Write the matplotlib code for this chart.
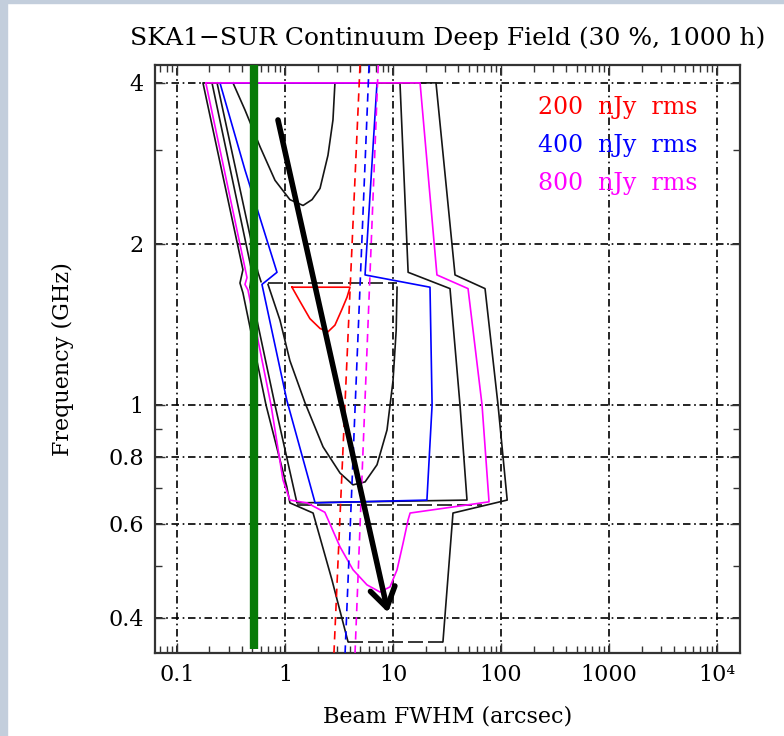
"""SKA1-SUR continuum deep field: beam FWHM vs frequency sensitivity contours."""

import matplotlib

matplotlib.use("Agg")
import matplotlib.pyplot as plt  # noqa: E402
from matplotlib.patches import Rectangle  # noqa: E402
from matplotlib.ticker import FixedFormatter, FixedLocator, NullFormatter  # noqa: E402

plt.rcParams["font.family"] = ["DejaVu Serif"]

# -- Data (beam FWHM in arcsec, frequency in GHz) ---------------------------
mag_fwhm = [0.185, 17.8, 25.5, 49.5, 66.7, 77.4, 14.4, 13.8, 12.4, 10.9, 9.38, 7.57,
            5.74, 4.26, 3.23, 2.34, 1.60, 1.11, 0.958, 0.742, 0.454, 0.426, 0.445, 0.185]
mag_freq = [4.0, 4.0, 1.75, 1.65, 1.0, 0.659, 0.628, 0.610, 0.552, 0.492, 0.457, 0.447,
            0.461, 0.492, 0.543, 0.630, 0.656, 0.664, 0.724, 1.0, 1.64, 1.68, 1.73, 4.0]

blue_fwhm = [0.250, 7.11, 5.51, 22.0, 23.0, 20.6, 1.90, 1.04, 0.612, 0.843, 0.426, 0.250]
blue_freq = [4.0, 4.0, 1.75, 1.66, 1.0, 0.664, 0.656, 1.02, 1.68, 1.77, 2.75, 4.0]

red_fwhm = [1.16, 1.38, 1.70, 2.11, 2.50, 2.90, 3.37, 3.75, 4.00, 1.16]
red_freq = [1.66, 1.56, 1.45, 1.39, 1.37, 1.41, 1.51, 1.59, 1.66, 1.66]

outer_fwhm = [29.0, 35.9, 114, 93.8, 71.1, 37.5, 25.0, 0.174, 0.408, 0.383, 0.408,
              0.667, 1.04, 1.11, 1.82, 2.72, 3.83]
outer_freq = [0.361, 0.628, 0.664, 1.0, 1.65, 1.75, 4.0, 4.0, 1.79, 1.69, 1.62,
              1.0, 0.703, 0.656, 0.628, 0.471, 0.361]
outer_base_fwhm = [3.83, 29.0]
outer_base_freq = [0.361, 0.361]

mid_fwhm = [0.211, 11.6, 13.8, 33.7, 41.7, 48.4, 1.29, 0.808, 0.474, 0.495, 0.211]
mid_freq = [4.0, 4.0, 1.77, 1.65, 1.0, 0.664, 0.656, 1.0, 1.66, 1.77, 4.0]

inner_fwhm = [0.235, 0.562, 0.60]
inner_freq = [4.0, 1.77, 1.70]

cup_hi_fwhm = [0.330, 0.426, 0.587, 0.808, 1.11, 1.47, 1.78, 2.11, 2.50, 2.78, 2.90]
cup_hi_freq = [4.0, 3.56, 3.04, 2.63, 2.42, 2.36, 2.42, 2.54, 2.93, 3.41, 4.0]

cup_mid_fwhm = [0.696, 0.899, 1.11, 1.53, 2.25, 3.23, 4.26, 5.51, 7.11, 8.80, 10.0, 10.7, 10.9]
cup_mid_freq = [1.68, 1.44, 1.21, 1.01, 0.835, 0.746, 0.709, 0.718, 0.773, 0.898, 1.11, 1.38, 1.66]
cup_mid_top_fwhm = [0.696, 10.9]
cup_mid_top_freq = [1.69, 1.69]

band_edge_fwhm = [1.3, 66.0]
band_edge_freq = [0.650, 0.650]

limit_freq = [4.32, 0.344]
red_limit_fwhm = [4.95, 2.84]
blue_limit_fwhm = [6.0, 3.6]
mag_limit_fwhm = [7.3, 4.45]

green_fwhm = 0.52
green_freq = [0.350, 4.32]

arrow_from = (0.861, 3.41)
arrow_to = (8.99, 0.409)

legend_labels = ["200  nJy  rms", "400  nJy  rms", "800  nJy  rms"]
legend_colors = ["#ff0000", "#0000ff", "#ff00ff"]

x_major = [0.1, 1, 10, 100, 1000, 1e4]
x_major_labels = ["0.1", "1", "10", "100", "1000", "10\u2074"]
y_major = [0.4, 0.6, 0.8, 1, 2, 4]
y_major_labels = ["0.4", "0.6", "0.8", "1", "2", "4"]
y_minor = [0.5, 0.7, 0.9, 3]

# -- Figure ------------------------------------------------------------------
fig = plt.figure(figsize=(7.84, 7.36), dpi=100)
fig.patches.append(Rectangle((0, 0), 7 / 784, 1, transform=fig.transFigure,
                             color="#c3cedc", zorder=0))
fig.patches.append(Rectangle((0, 1 - 3 / 736), 1, 3 / 736, transform=fig.transFigure,
                             color="#c3cedc", zorder=0))

ax = fig.add_axes([155 / 784, 1 - 653 / 736, 585 / 784, 588 / 736])
ax.set_xscale("log")
ax.set_yscale("log")
ax.set_xlim(0.0626, 16300)
ax.set_ylim(0.3438, 4.32)

# Grid (dash-dot, PGPLOT style)
grid_style = dict(color="black", lw=1.2, linestyle=(0, (4.5, 2.2, 1.0, 2.2)), zorder=1)
for xv in x_major:
    ax.axvline(xv, **grid_style)
for yv in y_major:
    ax.axhline(yv, **grid_style)

lw = 1.2
ax.plot(outer_fwhm, outer_freq, color="#151515", lw=lw, zorder=3)
ax.plot(outer_base_fwhm, outer_base_freq, color="#151515", lw=lw, zorder=3,
        linestyle=(0, (9, 3)))
ax.plot(mid_fwhm, mid_freq, color="#151515", lw=lw, zorder=3)
ax.plot(inner_fwhm, inner_freq, color="#151515", lw=lw, zorder=3)
ax.plot(cup_hi_fwhm, cup_hi_freq, color="#151515", lw=lw, zorder=3)
ax.plot(cup_mid_fwhm, cup_mid_freq, color="#151515", lw=lw, zorder=3)
ax.plot(cup_mid_top_fwhm, cup_mid_top_freq, color="#151515", lw=lw, zorder=3,
        linestyle=(0, (9, 3)))
ax.plot(band_edge_fwhm, band_edge_freq, color="#151515", lw=lw, zorder=3,
        linestyle=(0, (9, 3)))

ax.plot(blue_fwhm, blue_freq, color="#0000ff", lw=lw, zorder=4)
ax.plot(mag_fwhm, mag_freq, color="#ff00ff", lw=lw, zorder=5)
ax.plot(red_fwhm, red_freq, color="#ff0000", lw=lw, zorder=5)

dash = (0, (5, 3.5))
ax.plot(red_limit_fwhm, limit_freq, color="#ff0000", lw=1.2, linestyle=dash, zorder=5)
ax.plot(blue_limit_fwhm, limit_freq, color="#0000ff", lw=1.2, linestyle=dash, zorder=5)
ax.plot(mag_limit_fwhm, limit_freq, color="#ff00ff", lw=1.2, linestyle=dash, zorder=5)

ax.plot([green_fwhm, green_fwhm], green_freq, color="#077a07", lw=6, zorder=6,
        solid_capstyle="butt")

ax.annotate("", xy=arrow_to, xytext=arrow_from, zorder=7,
            arrowprops=dict(arrowstyle="->,head_length=0.7,head_width=0.45",
                            color="black", lw=4, mutation_scale=20,
                            shrinkA=0, shrinkB=0))

for i, (label, color) in enumerate(zip(legend_labels, legend_colors)):
    ax.text(0.655, 0.927 - i * 0.0645, label, color=color, fontsize=17,
            transform=ax.transAxes, ha="left", va="center", zorder=8)

# -- Axes formatting --------------------------------------------------------
ax.xaxis.set_major_locator(FixedLocator(x_major))
ax.xaxis.set_major_formatter(FixedFormatter(x_major_labels))
ax.yaxis.set_major_locator(FixedLocator(y_major))
ax.yaxis.set_major_formatter(FixedFormatter(y_major_labels))
ax.yaxis.set_minor_locator(FixedLocator(y_minor))
ax.yaxis.set_minor_formatter(NullFormatter())
ax.tick_params(which="both", direction="in", top=True, right=True,
               width=1.0, labelsize=16, color="#333333")
ax.tick_params(which="major", length=7, pad=8)
ax.tick_params(which="minor", length=5)
for spine in ax.spines.values():
    spine.set_linewidth(1.6)
    spine.set_color("#333333")

ax.set_xlabel("Beam FWHM (arcsec)", fontsize=16, labelpad=14)
ax.set_ylabel("Frequency (GHz)", fontsize=16, labelpad=25)
fig.text(448 / 784, 1 - 38 / 736, "SKA1\u2212SUR Continuum Deep Field (30 %, 1000 h)",
         fontsize=18, ha="center", va="center")

fig.savefig("out.png", dpi=100)
plt.close(fig)
